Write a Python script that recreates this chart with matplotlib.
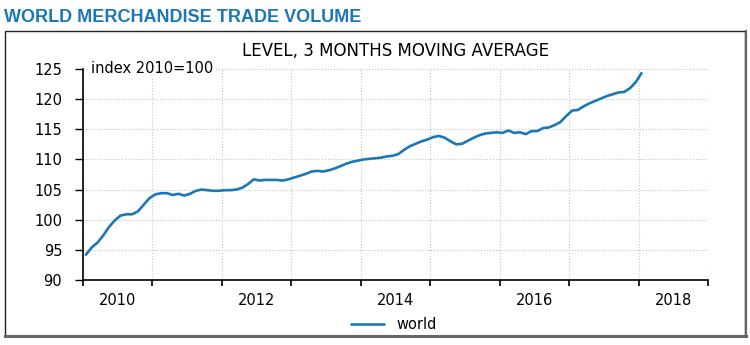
import numpy as np
import pandas as pd
import matplotlib
matplotlib.use('Agg')
import matplotlib.pyplot as plt
from matplotlib.patches import Rectangle
from matplotlib.lines import Line2D

plt.rcParams['font.family'] = ['DejaVu Sans']

# world merchandise trade volume, index 2010=100, 3 months moving average (monthly, from Jan 2010)
world = [94.2, 95.4, 96.2, 97.4, 98.8, 99.9, 100.7, 100.9, 100.9, 101.4, 102.5, 103.6,
         104.2, 104.4, 104.4, 104.1, 104.3, 104.0, 104.3, 104.8, 105.0, 104.9, 104.8, 104.8,
         104.9, 104.9, 105.0, 105.3, 105.9, 106.7, 106.5, 106.6, 106.6, 106.6, 106.5, 106.7,
         107.0, 107.3, 107.6, 108.0, 108.1, 108.0, 108.2, 108.5, 108.9, 109.3, 109.6, 109.8,
         110.0, 110.1, 110.2, 110.3, 110.5, 110.6, 110.9, 111.6, 112.2, 112.6, 113.0, 113.3,
         113.7, 113.9, 113.6, 113.0, 112.5, 112.6, 113.1, 113.6, 114.0, 114.3, 114.4, 114.5,
         114.4, 114.8, 114.4, 114.5, 114.2, 114.7, 114.7, 115.2, 115.3, 115.7, 116.2, 117.2,
         118.1, 118.2, 118.8, 119.3, 119.7, 120.1, 120.5, 120.8, 121.1, 121.2, 121.8, 122.8,
         124.3]
months = pd.date_range('2010-01', periods=len(world), freq='MS')
x = months.year + (months.month - 0.5) / 12

year_ticks = list(range(2010, 2020))
label_years = [2010, 2012, 2014, 2016, 2018]
y_ticks = [90, 95, 100, 105, 110, 115, 120, 125]

blue = '#1b77b5'

fig = plt.figure(figsize=(7.5, 3.45), dpi=100)
ax = fig.add_axes([0.1107, 0.1884, 0.8333, 0.6116])

ax.plot(x, world, color=blue, lw=1.9, label='world', solid_capstyle='round')

ax.set_xlim(2010, 2019)
ax.set_ylim(90, 125)
ax.set_yticks(y_ticks)
ax.set_xticks(year_ticks)
ax.set_xticklabels([])
ax.set_xticks([y + 0.5 for y in label_years], minor=True)
ax.set_xticklabels([str(y) for y in label_years], minor=True)
ax.tick_params(axis='x', which='minor', length=0, pad=9, labelsize=10.5)
ax.tick_params(axis='x', which='major', length=4, width=1.2, direction='out')
ax.tick_params(axis='y', length=6, width=1.0, pad=9, labelsize=10.5)

ax.grid(True, which='major', color='#c4c4c4', ls=':', lw=0.8)
for s in ['top', 'right']:
    ax.spines[s].set_visible(False)
for s in ['left', 'bottom']:
    ax.spines[s].set_linewidth(1.2)

ax.text(2010.115, 125, 'index 2010=100', fontsize=10.5, va='center', ha='left',
        bbox=dict(facecolor='white', edgecolor='none', pad=1.0), zorder=5)

fig.text(0.005, 0.975, 'WORLD MERCHANDISE TRADE VOLUME', color=blue,
         fontsize=13, fontweight='bold', va='top', ha='left', family='Liberation Sans')
fig.text(0.527, 0.8386, 'LEVEL, 3 MONTHS MOVING AVERAGE', fontsize=12,
         ha='center', va='baseline')

fig.legend(loc='center', bbox_to_anchor=(0.525, 0.058), frameon=False,
           fontsize=10.5, handlelength=2.3, handletextpad=0.85)

# frame around the chart
fig.add_artist(Rectangle((0.006, 0.027), 0.987, 0.882, transform=fig.transFigure,
                         fill=False, edgecolor='#222222', lw=1.0))
fig.add_artist(Line2D([0.006, 0.994], [0.026, 0.026], transform=fig.transFigure,
                      color='#666666', lw=2.2))
fig.add_artist(Line2D([0.994, 0.994], [0.026, 0.909], transform=fig.transFigure,
                      color='#666666', lw=1.6))

fig.savefig('out.png', dpi=100)
